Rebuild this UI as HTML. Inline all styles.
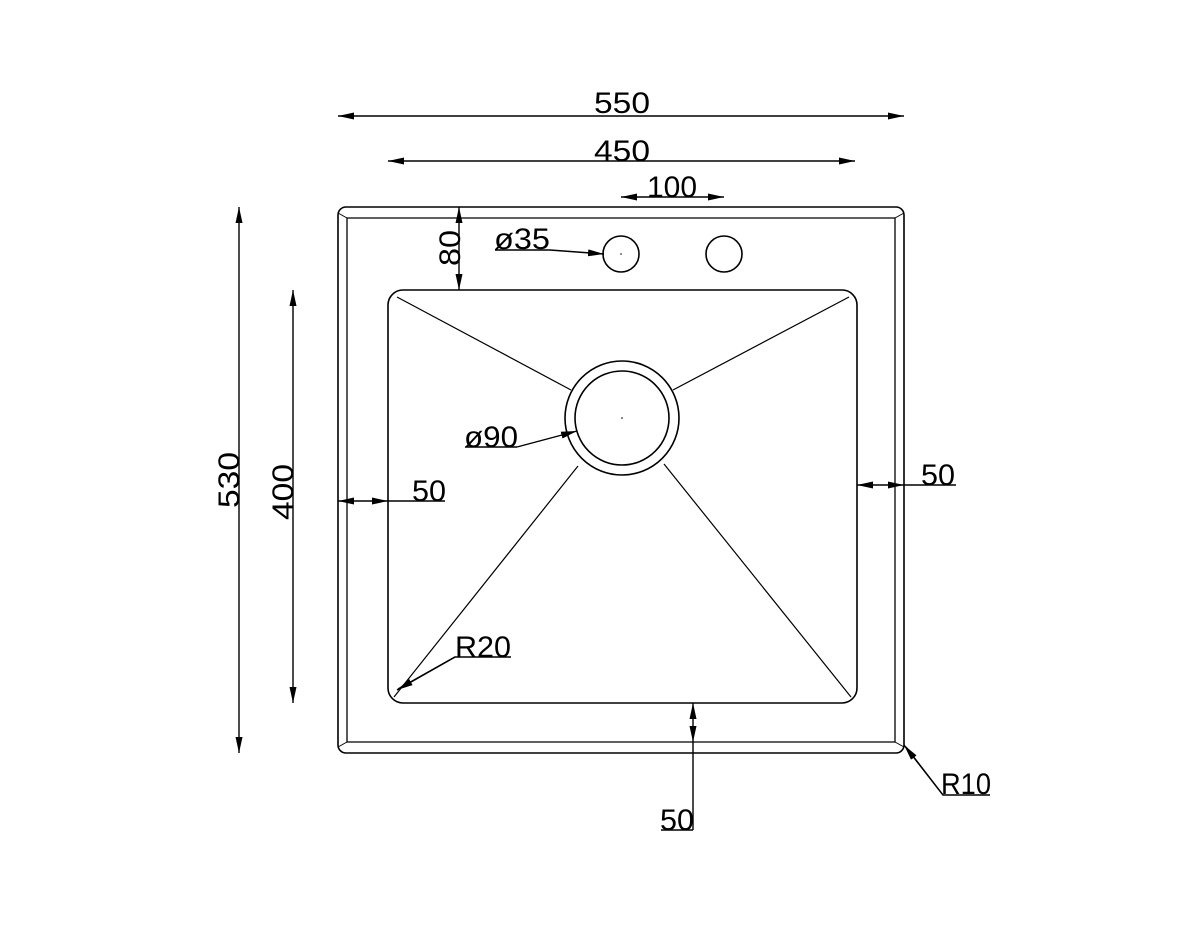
<!DOCTYPE html>
<html><head><meta charset="utf-8"><style>html,body{margin:0;padding:0;background:#fff}svg{display:block}</style></head>
<body>
<svg width="1200" height="927" viewBox="0 0 1200 927" xmlns="http://www.w3.org/2000/svg">
<defs>
<marker id="a" viewBox="0 0 16 7" refX="16" refY="3.5" markerWidth="16" markerHeight="7" orient="auto-start-reverse" markerUnits="userSpaceOnUse"><path d="M0,0 L16,3.5 L0,7 z" fill="#000"/></marker>
</defs>
<g fill="none" stroke="#000" stroke-width="1.6">
<rect x="338" y="207" width="566" height="546" rx="8"/>
<path d="M347,218 H895 V742 H347 Z" stroke-width="1.3"/>
<line x1="338" y1="213" x2="347" y2="218" stroke-width="1"/>
<line x1="904" y1="213" x2="895" y2="218" stroke-width="1"/>
<line x1="338" y1="747" x2="347" y2="742" stroke-width="1"/>
<line x1="904" y1="747" x2="895" y2="742" stroke-width="1"/>
<rect x="388" y="290" width="469" height="413" rx="15"/>
<circle cx="622" cy="418" r="57"/>
<circle cx="622" cy="418" r="47"/>
<circle cx="621" cy="254" r="18"/>
<circle cx="724" cy="254" r="18"/>
<line x1="397" y1="297" x2="571" y2="390" stroke-width="1.2"/>
<line x1="849" y1="297" x2="673" y2="390" stroke-width="1.2"/>
<line x1="394" y1="697" x2="578" y2="466" stroke-width="1.2"/>
<line x1="851" y1="697" x2="664" y2="464" stroke-width="1.2"/>
</g>
<g stroke="#000" stroke-width="1.4" fill="none">
<line x1="338" y1="116" x2="904" y2="116" marker-start="url(#a)" marker-end="url(#a)"/>
<line x1="388" y1="161" x2="855" y2="161" marker-start="url(#a)" marker-end="url(#a)"/>
<line x1="621" y1="197" x2="724" y2="197" marker-start="url(#a)" marker-end="url(#a)"/>
<line x1="239" y1="207" x2="239" y2="753" marker-start="url(#a)" marker-end="url(#a)"/>
<line x1="293" y1="290" x2="293" y2="703" marker-start="url(#a)" marker-end="url(#a)"/>
<line x1="459" y1="207" x2="459" y2="290" marker-start="url(#a)" marker-end="url(#a)"/>
<line x1="338" y1="501" x2="388" y2="501" marker-start="url(#a)" marker-end="url(#a)"/>
<line x1="388" y1="501" x2="445" y2="501"/>
<line x1="857" y1="485" x2="904" y2="485" marker-start="url(#a)" marker-end="url(#a)"/>
<line x1="904" y1="485" x2="956" y2="485"/>
<line x1="693" y1="703" x2="693" y2="742" marker-start="url(#a)" marker-end="url(#a)"/>
<line x1="693" y1="742" x2="693" y2="830"/>
<line x1="661" y1="830" x2="693" y2="830"/>
<polyline points="990,795 943,795 906,747"/>
<line x1="943" y1="795" x2="904" y2="745" marker-end="url(#a)"/>
<polyline points="511,657 455,657 398,689"/>
<line x1="455" y1="657" x2="397" y2="690" marker-end="url(#a)"/>
<line x1="495" y1="250" x2="550" y2="250"/>
<line x1="550" y1="250" x2="604" y2="254" marker-end="url(#a)"/>
<line x1="465" y1="447" x2="517" y2="447"/>
<line x1="517" y1="447" x2="577" y2="431" marker-end="url(#a)"/>
</g>
<g fill="#000">
<circle cx="622" cy="418" r="0.8"/><circle cx="621" cy="254" r="0.8"/>
</g>
<g font-family="'Liberation Sans Narrow','Liberation Sans',sans-serif" font-size="30" fill="#000" font-weight="normal">
<text x="594" y="113" textLength="56" lengthAdjust="spacingAndGlyphs">550</text>
<text x="594" y="161" textLength="56" lengthAdjust="spacingAndGlyphs">450</text>
<text x="647" y="197" textLength="50" lengthAdjust="spacingAndGlyphs">100</text>
<text x="494" y="249" textLength="56" lengthAdjust="spacingAndGlyphs">ø35</text>
<text x="464" y="447" textLength="54" lengthAdjust="spacingAndGlyphs">ø90</text>
<text x="412" y="501" textLength="34" lengthAdjust="spacingAndGlyphs">50</text>
<text x="921" y="485" textLength="34" lengthAdjust="spacingAndGlyphs">50</text>
<text x="660" y="830" textLength="34" lengthAdjust="spacingAndGlyphs">50</text>
<text x="455" y="657" textLength="56" lengthAdjust="spacingAndGlyphs">R20</text>
<text x="941" y="794" textLength="50" lengthAdjust="spacingAndGlyphs">R10</text>
<text transform="translate(239,508) rotate(-90)" textLength="56" lengthAdjust="spacingAndGlyphs">530</text>
<text transform="translate(293,520) rotate(-90)" textLength="56" lengthAdjust="spacingAndGlyphs">400</text>
<text transform="translate(460,266) rotate(-90)" textLength="36" lengthAdjust="spacingAndGlyphs">80</text>
</g>
</svg>
</body></html>
